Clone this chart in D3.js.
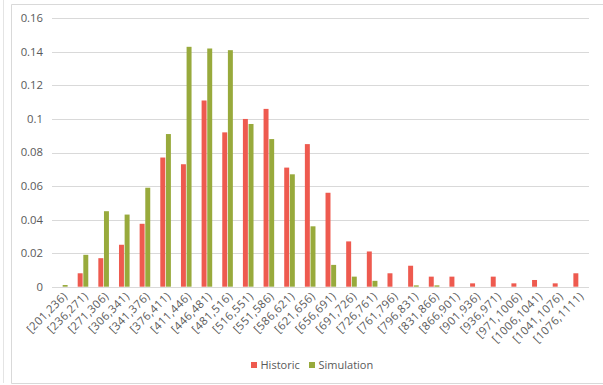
<!DOCTYPE html>
<html>
<head>
<meta charset="utf-8">
<script src="https://cdn.jsdelivr.net/npm/d3@7"></script>
<style>
  html, body { margin: 0; padding: 0; background: #fff; }
  svg { display: block; font-family: "Open Sans", sans-serif; }
</style>
</head>
<body>
<svg id="chart" width="603" height="385"></svg>
<script>
// Interval bins (lower bound inclusive, upper bound exclusive)
const categories = [
  "[201,236)", "[236,271)", "[271,306)", "[306,341)", "[341,376)", "[376,411)",
  "[411,446)", "[446,481)", "[481,516)", "[516,551)", "[551,586)", "[586,621)",
  "[621,656)", "[656,691)", "[691,726)", "[726,761)", "[761,796)", "[796,831)",
  "[831,866)", "[866,901)", "[901,936)", "[936,971)", "[971,1006)", "[1006,1041)",
  "[1041,1076)", "[1076,1111)"
];
const historic = [
  0, 0.008, 0.017, 0.025, 0.0375, 0.077, 0.073, 0.111, 0.092, 0.1, 0.106, 0.071,
  0.085, 0.056, 0.027, 0.021, 0.008, 0.0125, 0.006, 0.006, 0.002, 0.006, 0.002,
  0.004, 0.002, 0.008
];
const simulation = [
  0.001, 0.019, 0.045, 0.043, 0.059, 0.091, 0.143, 0.142, 0.141, 0.097, 0.088,
  0.067, 0.036, 0.013, 0.006, 0.0035, 0, 0.0008, 0.0008, 0, 0, 0, 0, 0, 0, 0
];
const seriesNames = ["Historic", "Simulation"];
const seriesColors = ["#ee5a4f", "#98aa3c"];
const yTicks = [0, 0.02, 0.04, 0.06, 0.08, 0.1, 0.12, 0.14, 0.16];

const seriesValues = [historic, simulation];
const rows = categories.map((c, i) => ({
  cat: c,
  vals: seriesNames.map((s, k) => ({ series: s, value: seriesValues[k][i], k }))
}));

const svg = d3.select("#chart");
const textColor = "#595959";
const gridColor = "#d9d9d9";
const fontSize = 11.3;

// Outer frame
svg.append("line").attr("x1", 3.5).attr("x2", 3.5).attr("y1", 0).attr("y2", 383)
  .attr("stroke", "#e4e4e4");
svg.append("path")
  .attr("d", "M603,4.5H11.5V383.5H603")
  .attr("fill", "none").attr("stroke", "#d9d9d9");

const x0 = d3.scaleBand().domain(categories).range([52, 589]).paddingInner(0).paddingOuter(0);
const x1 = d3.scaleBand().domain(seriesNames).range([0, 10.6]).paddingInner(0.12);
const y = d3.scaleLinear().domain([0, 0.16]).range([286.7, 18.3]);

// Gridlines
svg.append("g").selectAll("line").data(yTicks).join("line")
  .attr("x1", 52).attr("x2", 589)
  .attr("y1", d => Math.round(y(d)) + 0.5).attr("y2", d => Math.round(y(d)) + 0.5)
  .attr("stroke", gridColor).attr("stroke-width", 1);

// Y axis labels
const fmt = d => d === 0 ? "0" : String(+d.toFixed(2));
svg.append("g").selectAll("text").data(yTicks).join("text")
  .attr("x", 43).attr("y", d => y(d)).attr("dy", "0.35em")
  .attr("text-anchor", "end").attr("fill", textColor)
  .attr("font-size", fontSize).text(fmt);

// Bars
const groups = svg.append("g").selectAll("g").data(rows).join("g")
  .attr("transform", d => `translate(${x0(d.cat) + x0.bandwidth() / 2 - 5.3},0)`);
groups.selectAll("rect").data(d => d.vals).join("rect")
  .attr("x", d => x1(d.series))
  .attr("width", x1.bandwidth())
  .attr("y", d => y(d.value))
  .attr("height", d => y(0) - y(d.value))
  .attr("fill", d => seriesColors[d.k]);

// X axis category labels, rotated
svg.append("g").selectAll("text").data(categories).join("text")
  .attr("transform", d => `translate(${x0(d) + x0.bandwidth() / 2 + 3},${294}) rotate(-45)`)
  .attr("text-anchor", "end").attr("dy", "0.35em")
  .attr("letter-spacing", 0.4)
  .attr("fill", textColor).attr("font-size", fontSize).text(d => d);

// Legend
const legend = svg.append("g");
const legendX = [251, 309];
seriesNames.forEach((s, k) => {
  legend.append("rect").attr("x", legendX[k]).attr("y", 362).attr("width", 6).attr("height", 6)
    .attr("fill", seriesColors[k]);
  legend.append("text").attr("x", legendX[k] + 9.5).attr("y", 365).attr("dy", "0.35em")
    .attr("fill", textColor).attr("font-size", 11).text(s);
});
</script>
</body>
</html>
